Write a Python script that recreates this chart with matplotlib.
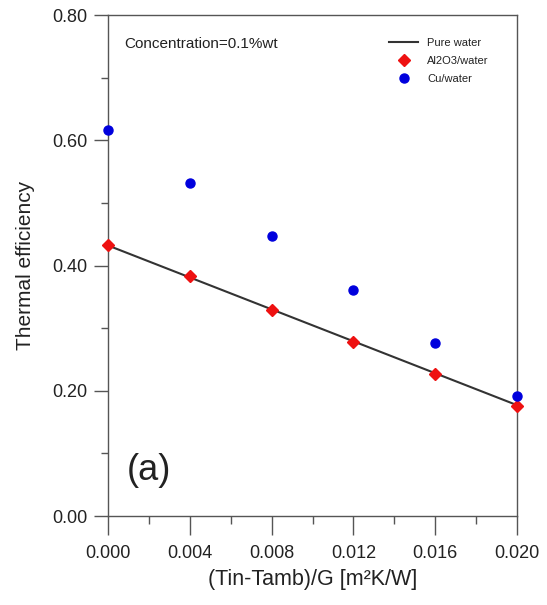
import matplotlib
matplotlib.use("Agg")
import matplotlib.pyplot as plt
from matplotlib.ticker import MultipleLocator, FormatStrFormatter

plt.rcParams['font.family'] = ['Liberation Sans', 'DejaVu Sans']

x = [0.000, 0.004, 0.008, 0.012, 0.016, 0.020]
pure_water = [0.432, 0.381, 0.330, 0.279, 0.228, 0.177]
al2o3_water = [0.433, 0.383, 0.329, 0.278, 0.227, 0.176]
cu_water = [0.616, 0.532, 0.447, 0.361, 0.276, 0.192]

fig = plt.figure(figsize=(5.47, 6.05), dpi=100)
ax = fig.add_axes([0.1974, 0.1471, 0.9452 - 0.1974, 0.9752 - 0.1471])

txt = '#222222'
ax.plot(x, pure_water, color='#333333', lw=1.5, label='Pure water', zorder=2)
ax.plot(x, al2o3_water, ls='none', marker='D', ms=6, color='#ee1111',
        label='Al2O3/water', zorder=3)
ax.plot(x, cu_water, ls='none', marker='o', ms=6.5, color='#0000dd',
        label='Cu/water', zorder=3)

ax.set_xlim(0.0, 0.020)
ax.set_ylim(0.0, 0.80)
ax.xaxis.set_major_locator(MultipleLocator(0.004))
ax.xaxis.set_minor_locator(MultipleLocator(0.002))
ax.yaxis.set_major_locator(MultipleLocator(0.2))
ax.yaxis.set_minor_locator(MultipleLocator(0.1))
ax.xaxis.set_major_formatter(FormatStrFormatter('%.3f'))
ax.yaxis.set_major_formatter(FormatStrFormatter('%.2f'))

for s in ax.spines.values():
    s.set_color('#555555')
    s.set_linewidth(1.0)

ax.tick_params(axis='x', which='major', direction='out', length=14, width=1,
               color='#555555', labelsize=13, labelcolor=txt, pad=7)
ax.tick_params(axis='x', which='minor', direction='out', length=6, width=1,
               color='#555555')
ax.tick_params(axis='y', which='major', direction='out', length=10, width=1,
               color='#555555', labelsize=13, labelcolor=txt, pad=5)
ax.tick_params(axis='y', which='minor', direction='out', length=5, width=1,
               color='#555555')

ax.set_xlabel('(Tin-Tamb)/G [m²K/W]', fontsize=15.5, color=txt, labelpad=5)
ax.set_ylabel('Thermal efficiency', fontsize=15, color=txt, labelpad=12)

ax.text(0.04, 0.942, 'Concentration=0.1%wt', transform=ax.transAxes,
        fontsize=11, color=txt, va='center', ha='left')
ax.text(0.047, 0.09, '(a)', transform=ax.transAxes, fontsize=26,
        color=txt, va='center', ha='left')

leg = ax.legend(loc='upper right', bbox_to_anchor=(0.955, 0.975), frameon=False,
                fontsize=8, handlelength=2.6, labelspacing=0.75,
                handletextpad=0.8, labelcolor=txt)

for l in ax.get_lines():
    l.set_clip_on(False)

fig.savefig('out.png', dpi=100)
